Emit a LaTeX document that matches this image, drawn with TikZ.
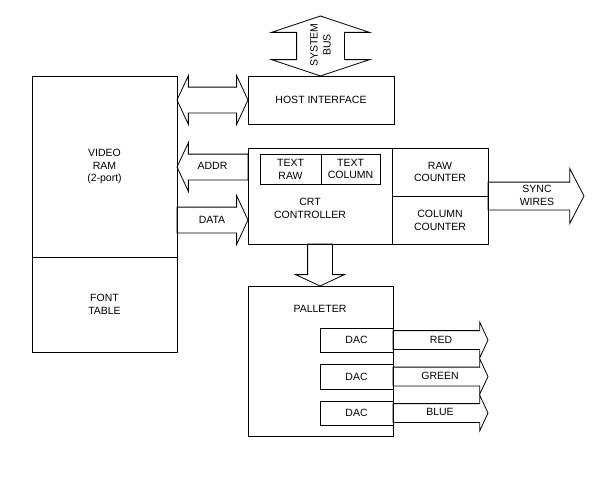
\documentclass[tikz,border=0pt]{standalone}
\usepackage{fontspec}
\setmainfont{Liberation Sans}
\usetikzlibrary{shapes.arrows, calc}
\tikzset{
  box/.style={draw, rectangle, align=center, inner sep=0pt, outer sep=0pt},
  fat/.style={draw, single arrow, inner xsep=0pt, outer sep=0pt, single arrow head indent=0pt},
  fatboth/.style={draw, double arrow, inner xsep=0pt, outer sep=0pt, double arrow head indent=0pt},
  lbl/.style={align=center, inner sep=0pt}
}
\begin{document}
\begin{tikzpicture}[x=1pt, y=-1pt, line width=0.8pt, font=\fontsize{10.5}{12.8}\selectfont]
      \useasboundingbox (0,0) rectangle (597,482);
      % boxes
      \node[box, minimum width=145pt, minimum height=181pt] (ram) at (104.5,166.5) {VIDEO\\RAM\\(2-port)};
      \node[box, minimum width=145pt, minimum height=95pt] (font) at (104.5,304.5) {FONT\\TABLE};
      \node[box, minimum width=146pt, minimum height=48pt] (host) at (321,100) {HOST INTERFACE};
      \node[box, minimum width=144pt, minimum height=96pt] (crt) at (320,196) {};
      \node[lbl] (crttext) at (310,208.5) {CRT\\CONTROLLER};
      \node[box, minimum width=61pt, minimum height=30pt] (textraw) at (290.5,169) {TEXT\\RAW};
      \node[box, minimum width=59pt, minimum height=30pt] (textcol) at (350.5,169) {TEXT\\COLUMN};
      \node[box, minimum width=96pt, minimum height=48pt] (rawctr) at (440,172) {RAW\\COUNTER};
      \node[box, minimum width=96pt, minimum height=48pt] (colctr) at (440,220) {COLUMN\\COUNTER};
      \node[box, minimum width=145pt, minimum height=150pt] (pal) at (320.5,361) {};
      \node[lbl] (paltext) at (320,309) {PALLETER};
      \node[box, minimum width=73pt, minimum height=24pt] (dacr) at (356.5,340) {DAC};
      \node[box, minimum width=73pt, minimum height=25pt] (dacg) at (356.5,376.5) {DAC};
      \node[box, minimum width=73pt, minimum height=24pt] (dacb) at (356.5,413) {DAC};
      % buses
      \node[fatboth, rotate=90, minimum height=60pt, inner ysep=23.5pt, double arrow head extend=25pt, double arrow tip angle=143] (sysbus) at (320.5,46) {};
      \node[lbl, rotate=90] (sysbustext) at (320.5,45) {SYSTEM\\BUS};
      \node[fatboth, minimum height=71pt, inner ysep=12.5pt, double arrow head extend=11.5pt, double arrow tip angle=130] (hostbus) at ($(ram.east |- host.west)!0.5!(host.west)$) {};
      \node[fat, rotate=180, anchor=tail, minimum height=71pt, inner ysep=12.5pt, single arrow head extend=11.5pt, single arrow tip angle=130] (addr) at (crt.west |- 0,167) {};
      \node[lbl] (addrtext) at (212.5,166) {ADDR};
      \node[fat, anchor=tail, minimum height=71pt, inner ysep=12.5pt, single arrow head extend=11.5pt, single arrow tip angle=130] (data) at (ram.east |- 0,220) {};
      \node[lbl] (datatext) at (212,220) {DATA};
      \node[fat, rotate=-90, anchor=tail, minimum height=42pt, inner ysep=12pt, single arrow head extend=12pt, single arrow tip angle=130] (toPal) at (crt.south) {};
      \node[fat, anchor=tail, minimum height=96pt, inner ysep=13.5pt, single arrow head extend=13.5pt, single arrow tip angle=125] (sync) at (rawctr.south east) {};
      \node[lbl] (synctext) at (537,195) {SYNC\\WIRES};
      \node[fat, anchor=tail, minimum height=95pt, inner ysep=9pt, single arrow head extend=8.5pt, single arrow tip angle=130] (red) at (dacr.east) {};
      \node[fat, anchor=tail, minimum height=95pt, inner ysep=9pt, single arrow head extend=8.5pt, single arrow tip angle=130] (green) at (dacg.east) {};
      \node[fat, anchor=tail, minimum height=95pt, inner ysep=9pt, single arrow head extend=8.5pt, single arrow tip angle=130] (blue) at (dacb.east) {};
      \node[lbl] at (441,340) {RED}; % red
      \node[lbl] at (440,376) {GREEN}; % green
      \node[lbl] at (440,412) {BLUE}; % blue
    \end{tikzpicture}
\end{document}
